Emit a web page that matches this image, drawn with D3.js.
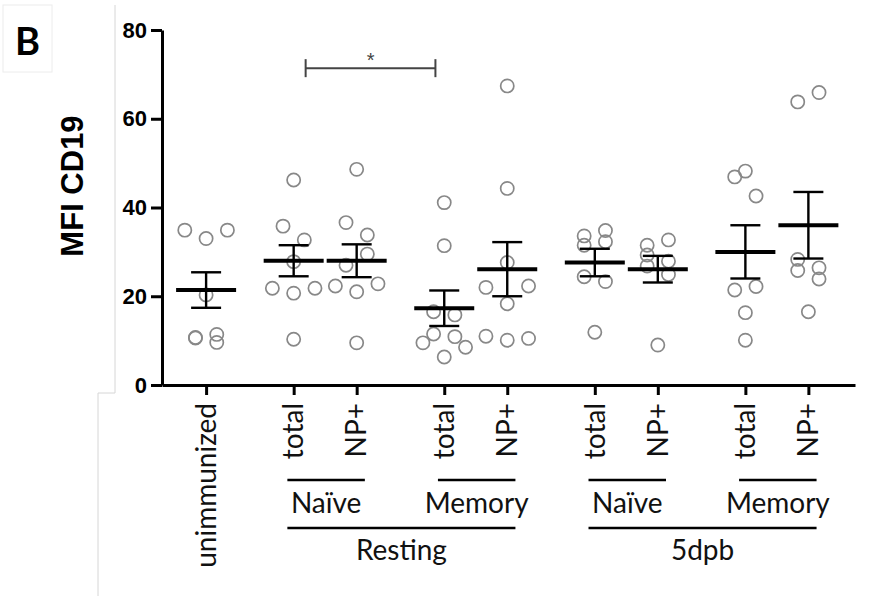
<!DOCTYPE html>
<html>
<head>
<meta charset="utf-8">
<script src="https://cdn.jsdelivr.net/npm/d3@7"></script>
<style>
  html, body { margin: 0; padding: 0; background: #fff; }
  svg { display: block; }
</style>
</head>
<body>
<div id="chart"></div>
<script>
// x categories and their grouping
const categories = ['unimmunized', 'total', 'NP+', 'total', 'NP+', 'total', 'NP+', 'total', 'NP+'];
const cellTypes = [null, 'Naïve', 'Naïve', 'Memory', 'Memory', 'Naïve', 'Naïve', 'Memory', 'Memory'];
const conditions = [null, 'Resting', 'Resting', 'Resting', 'Resting', '5dpb', '5dpb', '5dpb', '5dpb'];

// MFI CD19 per mouse, one array per category
const unimmunized = [33.0, 34.9, 34.9, 20.3, 10.6, 9.6, 10.7, 11.4];
const restNaiveTotal = [46.2, 35.8, 32.7, 27.8, 20.7, 21.8, 21.8, 10.3];
const restNaiveNP = [48.6, 36.6, 33.8, 27.0, 29.5, 21.0, 22.3, 22.8, 9.5];
const restMemTotal = [41.1, 31.4, 16.5, 15.8, 11.5, 10.9, 6.3, 9.5, 8.5];
const restMemNP = [67.4, 44.3, 27.6, 18.3, 22.0, 22.3, 10.1, 11.0, 10.5];
const dpbNaiveTotal = [33.6, 34.8, 31.5, 32.3, 24.4, 23.3, 11.9];
const dpbNaiveNP = [31.5, 32.7, 29.3, 27.9, 26.8, 24.9, 9.0];
const dpbMemTotal = [48.2, 46.9, 42.6, 21.4, 22.2, 16.3, 10.1];
const dpbMemNP = [63.8, 65.9, 28.3, 25.8, 26.4, 23.9, 16.5];
const seriesValues = [unimmunized, restNaiveTotal, restNaiveNP, restMemTotal, restMemNP,
                      dpbNaiveTotal, dpbNaiveNP, dpbMemTotal, dpbMemNP];

// mean and SEM bars as drawn
const means = [21.4, 28.0, 28.0, 17.3, 26.1, 27.6, 26.1, 30.0, 36.0];
const sems = [4.0, 3.5, 3.7, 4.0, 6.1, 3.1, 3.0, 6.0, 7.5];

const yTicks = [0, 20, 40, 60, 80];
const compFrom = 1, compTo = 3, compLabel = '*', compLevel = 71.4;

// ---- layout ----
const W = 879, H = 596;
const labelFont = 'Lato, "Open Sans", sans-serif';
const axisFont = '"Liberation Sans", Arial, sans-serif';

// category positions: pairs sit one unit apart, pairs separated by a wider gap
const pairGap = 1.39;
const xPos = [];
categories.forEach((c, i) => {
  if (i === 0) { xPos.push(0); return; }
  const samePair = cellTypes[i] === cellTypes[i - 1] && conditions[i] === conditions[i - 1];
  xPos.push(xPos[i - 1] + (samePair ? 1 : pairGap));
});

const x = d3.scaleLinear().domain([-0.7, xPos[xPos.length - 1] + 0.74]).range([162, 855]);
const y = d3.scaleLinear().domain([0, 80]).range([385, 30]);
const unit = x(1) - x(0);

// Prism-like row scatter: values close together share a row and are spread sideways
function rowSlots(values, tol) {
  const order = d3.range(values.length).sort((a, b) => values[a] - values[b] || a - b);
  const slots = new Array(values.length).fill(0);
  let i = 0;
  while (i < order.length) {
    const start = values[order[i]];
    let j = i;
    while (j < order.length && values[order[j]] - start < tol) j++;
    const row = order.slice(i, j);
    const chunks = row.length > 3 ? d3.range(0, row.length, 2).map(k => row.slice(k, k + 2)) : [row];
    chunks.forEach(ch => {
      const pattern = ch.length === 1 ? [0] : ch.length === 2 ? [-0.5, 0.5] : [0, -1, 1];
      ch.slice().sort((a, b) => a - b).forEach((idx, k) => { slots[idx] = pattern[k]; });
    });
    i = j;
  }
  return slots;
}

const svg = d3.select('#chart').append('svg')
  .attr('width', W).attr('height', H)
  .attr('viewBox', `0 0 ${W} ${H}`);

svg.append('rect').attr('width', W).attr('height', H).attr('fill', '#fff');

// faint page edges from the original figure panel
svg.append('path')
  .attr('d', 'M115,5V393H98V596')
  .attr('fill', 'none').attr('stroke', '#d6d6d6').attr('stroke-width', 1);
svg.append('rect')
  .attr('x', 3).attr('y', 5).attr('width', 49).attr('height', 67)
  .attr('fill', '#fff').attr('stroke', '#ececec').attr('stroke-width', 1);
svg.append('text')
  .attr('x', 27.5).attr('y', 55)
  .attr('text-anchor', 'middle')
  .style('font-family', labelFont).style('font-weight', 700).style('font-size', '38px')
  .text('B');

// y axis
svg.append('g')
  .attr('transform', `translate(${x.range()[0]},0)`)
  .call(d3.axisLeft(y).tickValues(yTicks).tickSize(11).tickSizeOuter(0).tickPadding(4))
  .call(g => {
    g.selectAll('path, line').attr('stroke', '#000').attr('stroke-width', 3);
    g.selectAll('text').attr('fill', '#000')
      .style('font-family', axisFont).style('font-weight', 700).style('font-size', '22px');
  });

// x axis
svg.append('g')
  .attr('transform', `translate(0,${y(0)})`)
  .call(d3.axisBottom(x).tickValues(xPos).tickSize(10).tickSizeOuter(0).tickFormat(''))
  .call(g => {
    g.selectAll('path, line').attr('stroke', '#000').attr('stroke-width', 3);
  });

svg.append('text')
  .attr('transform', 'translate(72,186) rotate(-90)')
  .attr('text-anchor', 'middle').attr('dy', '0.35em')
  .style('font-family', axisFont).style('font-weight', 700).style('font-size', '31px')
  .text('MFI CD19');

// points
const slotW = 21.3;
const points = [];
seriesValues.forEach((vals, ci) => {
  const slots = rowSlots(vals, 4.5);
  vals.forEach((v, k) => points.push({ ci, v, slot: slots[k] }));
});

svg.append('g').attr('class', 'points')
  .selectAll('circle').data(points).join('circle')
  .attr('cx', d => x(xPos[d.ci]) + d.slot * slotW)
  .attr('cy', d => y(d.v))
  .attr('r', 6.6)
  .attr('fill', 'none')
  .attr('stroke', '#888')
  .attr('stroke-width', 1.7);

// mean +/- SEM
const bars = svg.append('g').attr('class', 'bars');
categories.forEach((c, i) => {
  const cx = x(xPos[i]);
  const g = bars.append('g').attr('stroke', '#000');
  g.append('line')
    .attr('x1', cx).attr('x2', cx)
    .attr('y1', y(means[i] + sems[i])).attr('y2', y(means[i] - sems[i]))
    .attr('stroke-width', 2.4);
  [means[i] + sems[i], means[i] - sems[i]].forEach(v => {
    g.append('line')
      .attr('x1', cx - 15).attr('x2', cx + 15)
      .attr('y1', y(v)).attr('y2', y(v))
      .attr('stroke-width', 2.4);
  });
  g.append('line')
    .attr('x1', cx - 30).attr('x2', cx + 30)
    .attr('y1', y(means[i])).attr('y2', y(means[i]))
    .attr('stroke-width', 4);
});

// significance bracket
const bx1 = x(xPos[compFrom]) + 0.19 * unit;
const bx2 = x(xPos[compTo]) - 0.14 * unit;
const by = y(compLevel);
const sig = svg.append('g').attr('stroke', '#444').attr('stroke-width', 2).attr('fill', 'none');
sig.append('line').attr('x1', bx1).attr('x2', bx2).attr('y1', by).attr('y2', by);
[bx1, bx2].forEach(bx => sig.append('line').attr('x1', bx).attr('x2', bx).attr('y1', by - 9).attr('y2', by + 9));
svg.append('text')
  .attr('x', (bx1 + bx2) / 2).attr('y', by - 1)
  .attr('text-anchor', 'middle')
  .attr('fill', '#444')
  .style('font-family', axisFont).style('font-size', '20px')
  .text(compLabel);

// rotated category labels
svg.append('g').selectAll('text').data(categories).join('text')
  .attr('transform', (d, i) => `translate(${x(xPos[i])},403) rotate(-90)`)
  .attr('text-anchor', 'end').attr('dy', '0.35em')
  .style('font-family', labelFont).style('font-size', '28px')
  .attr('fill', '#111')
  .text(d => d);

// group underlines and labels
const padL = 0.1 * unit, padR = 0.13 * unit;
function spans(keyFn) {
  const out = [];
  categories.forEach((c, i) => {
    const key = keyFn(i);
    if (key == null) return;
    const last = out[out.length - 1];
    if (last && last.key === key && last.end === i - 1) last.end = i;
    else out.push({ key, label: key.split('|')[0], start: i, end: i });
  });
  return out;
}
const subSpans = spans(i => cellTypes[i] && `${cellTypes[i]}|${conditions[i]}`);
const condSpans = spans(i => conditions[i]);

const lab = svg.append('g');
[[subSpans, 480, 513], [condSpans, 528, 560]].forEach(([list, ly, ty]) => {
  list.forEach(s => {
    const x1 = x(xPos[s.start]) - padL, x2 = x(xPos[s.end]) + padR;
    lab.append('line').attr('x1', x1).attr('x2', x2).attr('y1', ly).attr('y2', ly)
      .attr('stroke', '#000').attr('stroke-width', 2.5);
    lab.append('text').attr('x', (x1 + x2) / 2).attr('y', ty)
      .attr('text-anchor', 'middle').attr('fill', '#111')
      .style('font-family', labelFont).style('font-size', '28px')
      .text(s.label);
  });
});
</script>
</body>
</html>
